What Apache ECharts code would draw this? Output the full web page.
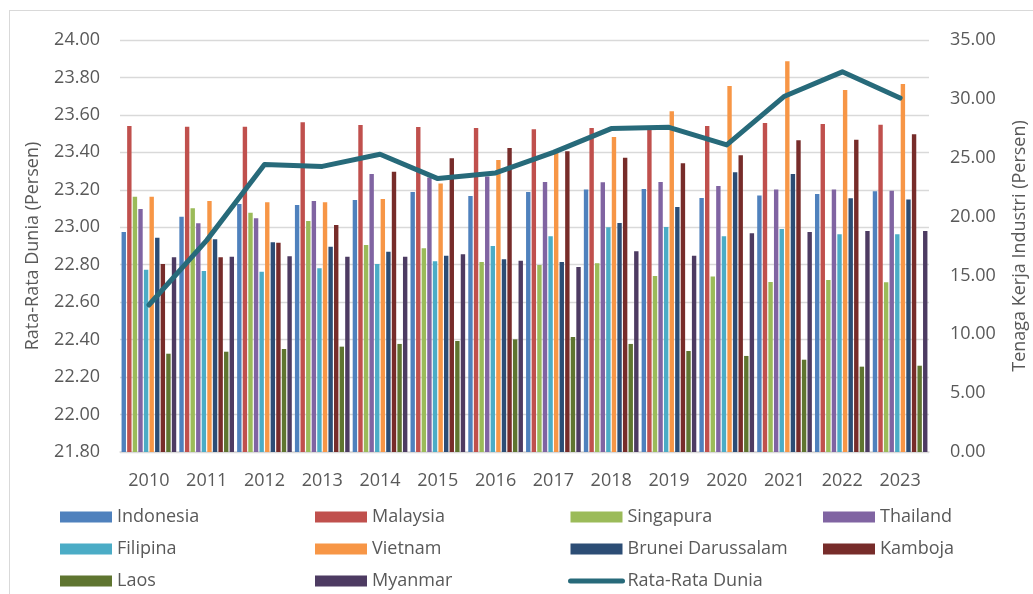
<!DOCTYPE html>
<html>
<head>
<meta charset="utf-8">
<script src="https://cdn.jsdelivr.net/npm/echarts@6/dist/echarts.min.js"></script>
<style>
  html, body { margin: 0; padding: 0; background: #fff; overflow: hidden; }
  #chart { width: 1033px; height: 594px; }
  .frame {
    position: absolute; left: 9px; top: 10px;
    width: 1040px; height: 600px;
    border: 1px solid #d9d9d9; pointer-events: none;
  }
</style>
</head>
<body>
<div id="chart"></div>
<div class="frame"></div>
<script>
const years = ["2010", "2011", "2012", "2013", "2014", "2015", "2016", "2017", "2018", "2019", "2020", "2021", "2022", "2023"];

// Tenaga kerja industri (persen), sumbu kanan
const indonesia = [18.69, 19.99, 21.07, 20.98, 21.41, 22.09, 21.75, 22.09, 22.29, 22.34, 21.58, 21.80, 21.92, 22.15];
const malaysia  = [27.70, 27.64, 27.64, 28.01, 27.78, 27.61, 27.53, 27.41, 27.53, 27.40, 27.70, 27.95, 27.86, 27.81];
const singapura = [21.69, 20.70, 20.33, 19.62, 17.59, 17.30, 16.14, 15.89, 16.03, 14.95, 14.90, 14.44, 14.61, 14.42];
const thailand  = [20.64, 19.43, 19.85, 21.32, 23.62, 23.31, 23.40, 22.94, 22.91, 22.94, 22.60, 22.29, 22.29, 22.20];
const filipina  = [15.49, 15.38, 15.32, 15.60, 15.97, 16.20, 17.50, 18.32, 19.09, 19.11, 18.32, 18.94, 18.49, 18.49];
const vietnam   = [21.69, 21.32, 21.21, 21.21, 21.49, 22.80, 24.81, 25.40, 26.76, 28.94, 31.09, 33.19, 30.75, 31.26];
const brunei    = [18.21, 18.07, 17.81, 17.44, 17.02, 16.68, 16.37, 16.14, 19.45, 20.81, 23.76, 23.62, 21.55, 21.44];
const kamboja   = [15.97, 16.54, 17.78, 19.28, 23.81, 24.95, 25.83, 25.54, 25.00, 24.52, 25.20, 26.48, 26.53, 26.99];
const laos      = [8.35, 8.52, 8.75, 8.95, 9.18, 9.43, 9.57, 9.77, 9.18, 8.58, 8.16, 7.84, 7.25, 7.33];
const myanmar   = [16.54, 16.59, 16.62, 16.59, 16.59, 16.79, 16.25, 15.72, 17.05, 16.68, 18.58, 18.69, 18.77, 18.77];

// Rata-rata dunia (persen), sumbu kiri
const rataRataDunia = [22.585, 22.93, 23.335, 23.325, 23.39, 23.26, 23.29, 23.40, 23.527, 23.534, 23.44, 23.70, 23.83, 23.69];

const barSeries = [
  ["Indonesia", indonesia, "#4f81bd"],
  ["Malaysia", malaysia, "#c0504d"],
  ["Singapura", singapura, "#9bbb59"],
  ["Thailand", thailand, "#8064a2"],
  ["Filipina", filipina, "#4bacc6"],
  ["Vietnam", vietnam, "#f79646"],
  ["Brunei Darussalam", brunei, "#2c4d75"],
  ["Kamboja", kamboja, "#772c2a"],
  ["Laos", laos, "#5f7530"],
  ["Myanmar", myanmar, "#4d3b62"]
];

const FONT = "'Open Sans', 'Liberation Sans', sans-serif";
const TEXT = "#595959";
const GRID = "#d9d9d9";
const LINE = "#276a7a";

const chart = echarts.init(document.getElementById("chart"));

// one vertical legend per column, so the four columns line up like the original
function legendItem(n) {
  if (n !== "Rata-Rata Dunia") return { name: n, icon: "rect" };
  // line icon only: hide the default circle marker
  return {
    name: n,
    itemStyle: { color: "rgba(0,0,0,0)", borderWidth: 0 },
    lineStyle: { color: LINE, width: 5, cap: "round" }
  };
}

function legendCol(left, names) {
  return {
    orient: "vertical",
    left: left,
    top: 507,
    padding: 0,
    itemWidth: 52,
    itemHeight: 11,
    itemGap: 12,
    selectedMode: false,
    data: names.map(legendItem),
    textStyle: { color: TEXT, fontSize: 18, fontFamily: FONT, lineHeight: 20 }
  };
}

chart.setOption({
  animation: false,
  textStyle: { fontFamily: FONT },
  grid: { left: 120, right: 104, top: 40, bottom: 142, outerBoundsMode: "none" },
  legend: [
    legendCol(60, ["Indonesia", "Filipina", "Laos"]),
    legendCol(315, ["Malaysia", "Vietnam", "Myanmar"]),
    legendCol(568, ["Singapura", "Brunei Darussalam", "Rata-Rata Dunia"]),
    legendCol(823, ["Thailand", "Kamboja"])
  ],
  xAxis: {
    type: "category",
    data: years,
    axisLine: { lineStyle: { color: GRID, width: 1.5 } },
    axisTick: { show: false },
    axisLabel: { color: TEXT, fontSize: 18, fontFamily: FONT, margin: 20 }
  },
  yAxis: [
    {
      type: "value",
      min: 21.8,
      max: 24,
      interval: 0.2,
      name: "Rata-Rata Dunia (Persen)",
      nameLocation: "middle",
      nameGap: 78,
      nameTextStyle: { color: TEXT, fontSize: 18, fontFamily: FONT },
      axisLine: { show: false },
      axisTick: { show: false },
      splitLine: { lineStyle: { color: GRID, width: 1.3 } },
      axisLabel: {
        color: TEXT, fontSize: 18, fontFamily: FONT, margin: 20,
        formatter: (v) => v.toFixed(2)
      }
    },
    {
      type: "value",
      min: 0,
      max: 35,
      interval: 5,
      name: "Tenaga Kerja Industri (Persen)",
      nameLocation: "middle",
      nameGap: 82,
      nameRotate: 90,
      nameTextStyle: { color: TEXT, fontSize: 18, fontFamily: FONT },
      axisLine: { show: false },
      axisTick: { show: false },
      splitLine: { show: false },
      axisLabel: {
        color: TEXT, fontSize: 18, fontFamily: FONT, margin: 21,
        formatter: (v) => v.toFixed(2)
      }
    }
  ],
  series: barSeries.map(([name, values, color]) => ({
    name: name,
    type: "bar",
    yAxisIndex: 1,
    data: values,
    barGap: "27%",
    barCategoryGap: "5.4%",
    itemStyle: { color: color }
  })).concat([{
    name: "Rata-Rata Dunia",
    type: "line",
    yAxisIndex: 0,
    data: rataRataDunia,
    symbol: "none",
    z: 5,
    itemStyle: { color: LINE },
    lineStyle: { color: LINE, width: 5, cap: "round", join: "round" }
  }])
});
</script>
</body>
</html>
